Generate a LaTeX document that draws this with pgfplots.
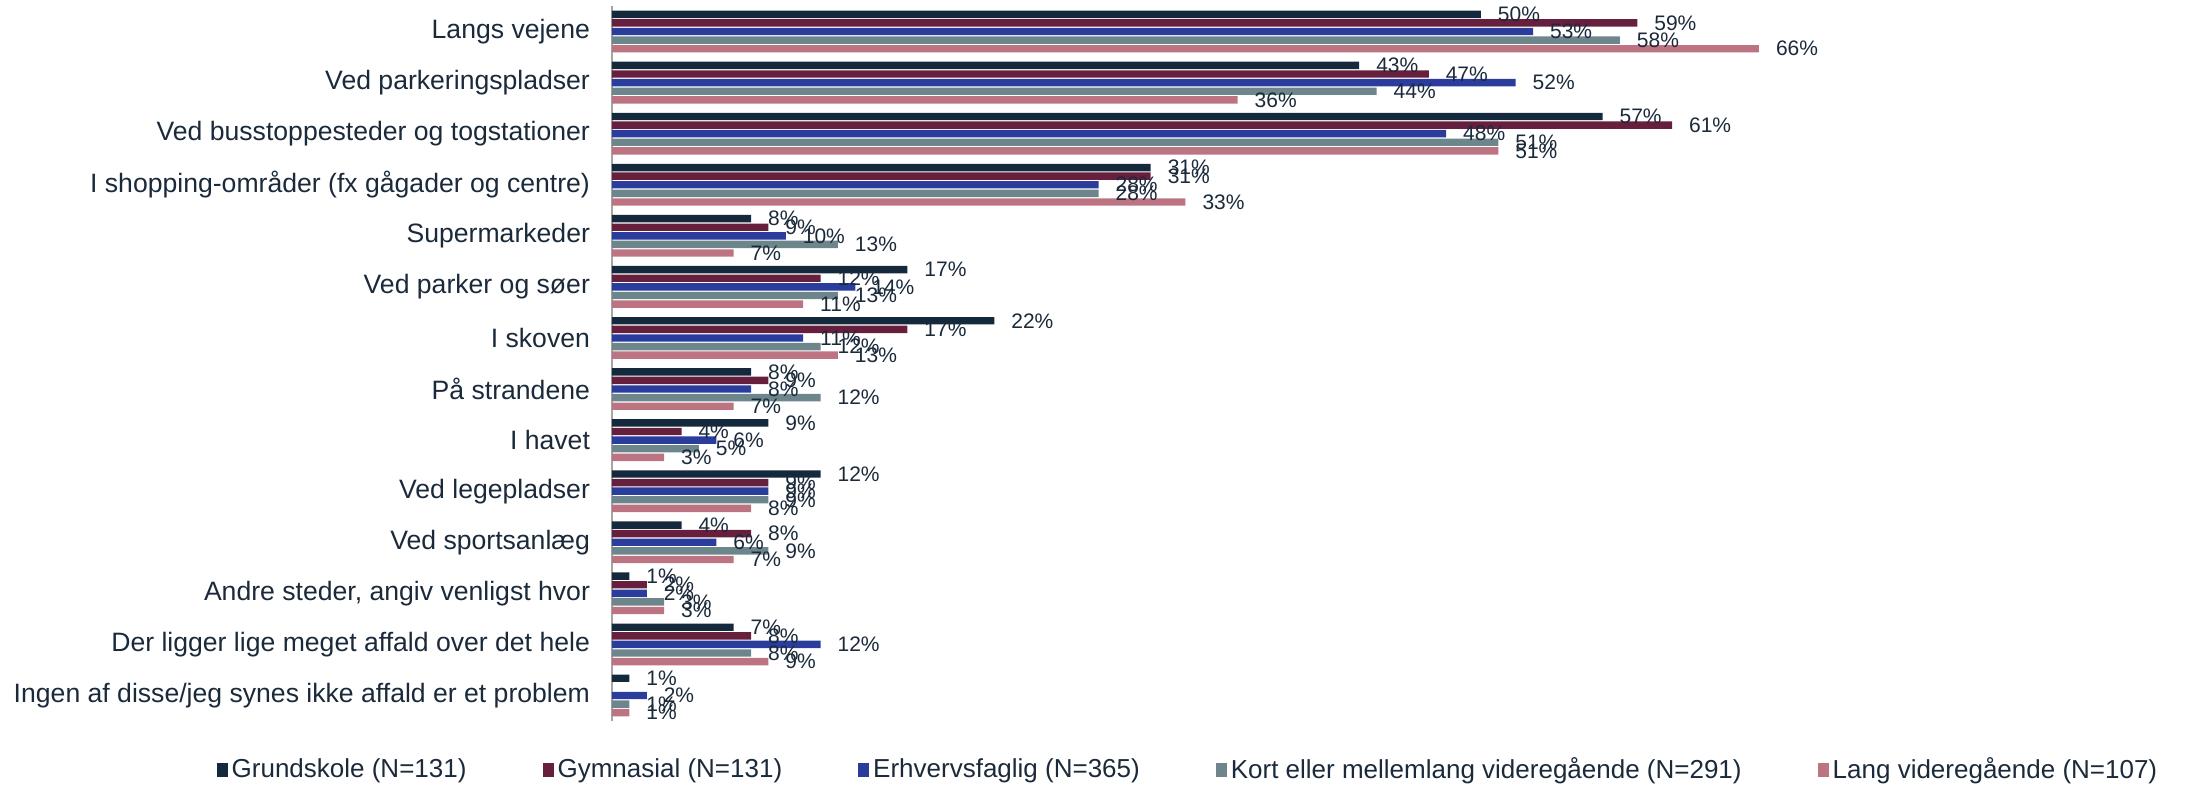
\documentclass[border=0pt]{standalone}
\usepackage{fontspec}
\setmainfont{Liberation Sans}
\usepackage{pgfplots}
\pgfplotsset{compat=1.18}
\definecolor{cA}{HTML}{15293D}
\definecolor{cB}{HTML}{661F3D}
\definecolor{cC}{HTML}{2A3C9C}
\definecolor{cD}{HTML}{6D868C}
\definecolor{cE}{HTML}{BC7482}
\definecolor{txt}{HTML}{1B2A3A}
\definecolor{axgray}{HTML}{A6A6A6}
\begin{document}
\begin{tikzpicture}
\useasboundingbox (-306pt,-35pt) rectangle (787.5pt,360.5pt);
\begin{axis}[
  at={(0,0)}, anchor=south west,
  scale only axis, width=782pt, height=357.5pt,
  xbar, bar width=3.7pt,
  xmin=0, xmax=90,
  ymin=-0.5, ymax=13.5, y dir=reverse,
  axis x line=none,
  axis y line*=left,
  y axis line style={draw=axgray, line width=0.8pt, -},
  ytick={0,...,13},
  yticklabels={Langs vejene, Ved parkeringspladser, Ved busstoppesteder og togstationer, I shopping-områder (fx gågader og centre), Supermarkeder, Ved parker og søer, I skoven, På strandene, I havet, Ved legepladser, Ved sportsanlæg, {Andre steder, angiv venligst hvor}, Der ligger lige meget affald over det hele, Ingen af disse/jeg synes ikke affald er et problem},
  major tick length=0pt,
  yticklabel style={font=\fontsize{13.3}{15}\selectfont, text=txt, xshift=-7.5pt},
  /pgf/number format/assume math mode=true,
  nodes near coords={\pgfmathprintnumber[fixed,precision=0,assume math mode=true]{\pgfplotspointmeta}\%},
  every node near coord/.append style={font=\fontsize{10.5}{12}\selectfont, text=txt, anchor=west, xshift=5pt},
  legend columns=5,
  legend style={at={(-0.253,-0.0685)}, anchor=west, draw=none, fill=none, inner sep=0pt,
    font=\fontsize{13}{15}\selectfont, text=txt,
    /tikz/every even column/.append style={column sep=36pt}},
  leg/.style={legend image code/.code={\fill[##1] (0pt,-3.5pt) rectangle (5.5pt,3.5pt);}},
]
\addplot[fill=cA, draw=none, leg, bar shift=8.6pt] coordinates {(50,0)(43,1)(57,2)(31,3)(8,4)(17,5)(22,6)(8,7)(9,8)(12,9)(4,10)(1,11)(7,12)(1,13)};
\addplot[fill=cB, draw=none, leg, bar shift=4.3pt] coordinates {(59,0)(47,1)(61,2)(31,3)(9,4)(12,5)(17,6)(9,7)(4,8)(9,9)(8,10)(2,11)(8,12)};
\addplot[fill=cC, draw=none, leg, bar shift=0pt] coordinates {(53,0)(52,1)(48,2)(28,3)(10,4)(14,5)(11,6)(8,7)(6,8)(9,9)(6,10)(2,11)(12,12)(2,13)};
\addplot[fill=cD, draw=none, leg, bar shift=-4.3pt] coordinates {(58,0)(44,1)(51,2)(28,3)(13,4)(13,5)(12,6)(12,7)(5,8)(9,9)(9,10)(3,11)(8,12)(1,13)};
\addplot[fill=cE, draw=none, leg, bar shift=-8.6pt] coordinates {(66,0)(36,1)(51,2)(33,3)(7,4)(11,5)(13,6)(7,7)(3,8)(8,9)(7,10)(3,11)(9,12)(1,13)};
\legend{Grundskole (N=131), Gymnasial (N=131), Erhvervsfaglig (N=365), Kort eller mellemlang videregående (N=291), Lang videregående (N=107)}
\end{axis}
\end{tikzpicture}
\end{document}
